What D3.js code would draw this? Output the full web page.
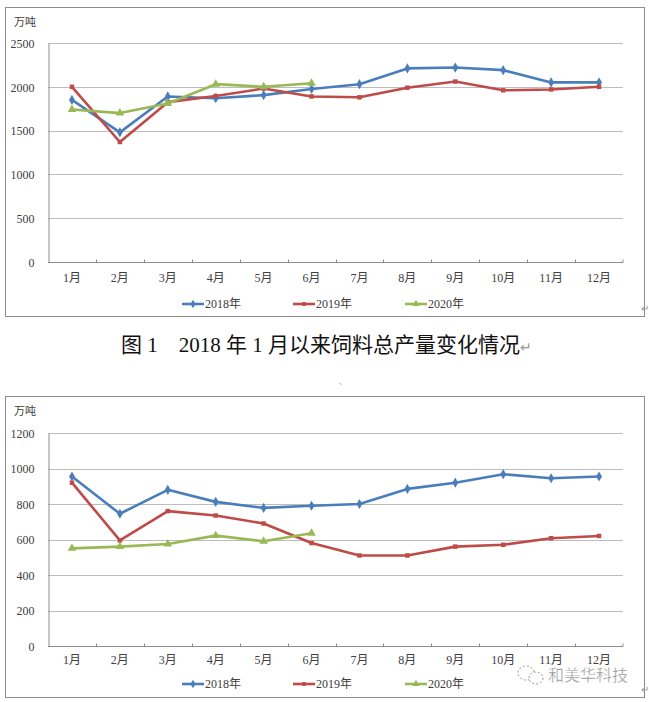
<!DOCTYPE html>
<meta charset="utf-8">
<script src="https://d3js.org/d3.v7.min.js"></script>
<style>
  body { margin: 0; background: #fff; }
  svg { display: block; }
  text { font-family: "Liberation Serif", "Noto Sans CJK SC", serif; }
</style>
<body>
<script>
    // data
    var months = ["1月", "2月", "3月", "4月", "5月", "6月", "7月", "8月", "9月", "10月", "11月", "12月"];
    var years = ["2018年", "2019年", "2020年"];

    // chart 1: total feed output
    var total2018 = [1850, 1480, 1890, 1870, 1905, 1975, 2030, 2210, 2220, 2190, 2050, 2050];
    var total2019 = [2000, 1370, 1825, 1895, 1980, 1890, 1880, 1990, 2060, 1960, 1970, 2000];
    var total2020 = [1740, 1700, 1810, 2030, 2000, 2040];
    var totalTicks = [0, 500, 1000, 1500, 2000, 2500];

    // chart 2
    var second2018 = [955, 745, 880, 812, 778, 790, 800, 885, 920, 968, 945, 955];
    var second2019 = [920, 595, 760, 735, 690, 580, 510, 510, 560, 570, 607, 620];
    var second2020 = [550, 560, 575, 622, 590, 635];
    var secondTicks = [0, 200, 400, 600, 800, 1000, 1200];

    var colors = ["#4a7ebb", "#be4b48", "#98b954"];
    var shapes = [d3.symbolDiamond, d3.symbolSquare, d3.symbolTriangle];
    var shapeSizes = [30, 20, 32];

    var svg = d3.select("body").append("svg")
        .attr("width", 649)
        .attr("height", 702);

    function drawChart(c) {
        var g = svg.append("g");

        // outer frame
        g.append("rect")
            .attr("x", 5.5).attr("y", c.frameTop + 0.5)
            .attr("width", 639).attr("height", c.frameBottom - c.frameTop)
            .attr("fill", "#fff")
            .attr("stroke", "#8c8c8c");

        var x = d3.scaleBand().domain(months).range([48, 623]);
        var y = d3.scaleLinear().domain([0, c.ticks[c.ticks.length - 1]]).range([c.bottom, c.top]);

        // gridlines
        g.selectAll(".grid").data(c.ticks.slice(1)).enter().append("line")
            .attr("x1", 48).attr("x2", 623)
            .attr("y1", function(d) { return Math.round(y(d)) + 0.5; })
            .attr("y2", function(d) { return Math.round(y(d)) + 0.5; })
            .attr("stroke", "#bdbdbd");

        // y axis
        var yAxis = d3.axisLeft(y).tickValues(c.ticks).tickFormat(d3.format("d"))
            .tickSize(0).tickPadding(14);
        var ya = g.append("g").attr("transform", "translate(48.5,0.5)").call(yAxis);
        ya.select(".domain").attr("stroke", "#8c8c8c");
        ya.selectAll("text").attr("font-size", 12).attr("fill", "#404040")
            .attr("font-family", "Liberation Serif");

        // x axis with ticks on band edges
        var xa = g.append("g").attr("transform", "translate(0," + (Math.round(c.bottom) + 0.5) + ")");
        xa.append("line").attr("x1", 48).attr("x2", 623).attr("stroke", "#8c8c8c");
        xa.selectAll(".tk").data(months.slice(1).concat(["end"])).enter().append("line")
            .attr("x1", function(d) { return d == "end" ? 623 : Math.round(x(d)) + 0.5; })
            .attr("x2", function(d) { return d == "end" ? 623 : Math.round(x(d)) + 0.5; })
            .attr("y1", 0).attr("y2", -3)
            .attr("stroke", "#8c8c8c");
        xa.selectAll(".lbl").data(months).enter().append("text")
            .attr("x", function(d) { return x(d) + x.bandwidth() / 2; })
            .attr("y", c.labelY - Math.round(c.bottom))
            .attr("text-anchor", "middle")
            .attr("dy", "0.35em")
            .attr("font-size", 12)
            .attr("fill", "#404040")
            .text(function(d) { return d; });

        // unit label
        g.append("text")
            .attr("x", 14).attr("y", c.unitY).attr("dy", "0.35em")
            .attr("font-size", 11).attr("fill", "#404040")
            .text("万吨");

        var line = d3.line()
            .x(function(d, i) { return x(months[i]) + x.bandwidth() / 2; })
            .y(function(d) { return y(d); });

        c.series.forEach(function(s, k) {
            g.append("path")
                .attr("d", line(s))
                .attr("fill", "none")
                .attr("stroke", colors[k])
                .attr("stroke-width", 2.6)
                .attr("stroke-linejoin", "round");
            g.selectAll(".m" + k).data(s).enter().append("path")
                .attr("d", d3.symbol().type(shapes[k]).size(shapeSizes[k]))
                .attr("transform", function(d, i) {
                    return "translate(" + (x(months[i]) + x.bandwidth() / 2) + "," + y(d) + ")";
                })
                .attr("fill", colors[k]);
        });

        // legend
        var legendX = [182, 293, 405];
        years.forEach(function(yr, k) {
            var lg = g.append("g").attr("transform", "translate(" + legendX[k] + "," + c.legendY + ")");
            lg.append("line").attr("x1", 0).attr("x2", 22)
                .attr("stroke", colors[k]).attr("stroke-width", 2.6);
            lg.append("path")
                .attr("d", d3.symbol().type(shapes[k]).size(shapeSizes[k] * 0.7))
                .attr("transform", "translate(11,0)")
                .attr("fill", colors[k]);
            lg.append("text")
                .attr("x", 23).attr("dy", "0.35em")
                .attr("font-size", 12).attr("fill", "#404040")
                .text(yr);
        });

        // paragraph mark at the frame's corner
        g.append("text")
            .attr("x", 641).attr("y", c.frameBottom - 4)
            .attr("font-size", 10).attr("fill", "#999")
            .attr("font-family", "DejaVu Sans")
            .text("↵");
    }

    drawChart({
        frameTop: 7, frameBottom: 316,
        top: 43, bottom: 262,
        ticks: totalTicks,
        series: [total2018, total2019, total2020],
        labelY: 277, legendY: 304, unitY: 22
    });

    drawChart({
        frameTop: 396, frameBottom: 697,
        top: 433, bottom: 646,
        ticks: secondTicks,
        series: [second2018, second2019, second2020],
        labelY: 659, legendY: 684, unitY: 411
    });

    // caption between the charts
    var cap = svg.append("text")
        .attr("x", 121).attr("y", 345).attr("dy", "0.35em")
        .attr("font-size", 21).attr("fill", "#111");
    cap.append("tspan").attr("font-family", "Noto Sans CJK SC").text("图");
    cap.append("tspan").attr("font-family", "Liberation Serif").text(" 1\u00a0\u00a0\u00a0 2018 ");
    cap.append("tspan").attr("font-family", "Noto Sans CJK SC").text("年");
    cap.append("tspan").attr("font-family", "Liberation Serif").text(" 1 ");
    cap.append("tspan").attr("font-family", "Noto Sans CJK SC").text("月以来饲料总产量变化情况");
    cap.append("tspan").attr("font-family", "DejaVu Sans").attr("font-size", 14).attr("fill", "#999").text("↵");

    svg.append("text")
        .attr("x", 339).attr("y", 384)
        .attr("font-size", 8).attr("fill", "#aaa")
        .text("、");

    // watermark
    var wm = svg.append("g").attr("transform", "translate(0,675)");
    wm.append("ellipse").attr("cx", 526).attr("cy", -2).attr("rx", 8).attr("ry", 7)
        .attr("fill", "none").attr("stroke", "#999").attr("stroke-dasharray", "2,2");
    wm.append("ellipse").attr("cx", 536).attr("cy", 3).attr("rx", 7).attr("ry", 6)
        .attr("fill", "#fff").attr("stroke", "#999").attr("stroke-dasharray", "2,2");
    wm.append("text")
        .attr("x", 548).attr("dy", "0.35em")
        .attr("font-family", "Noto Sans CJK SC")
        .attr("font-size", 16).attr("fill", "#8a8a8a")
        .attr("stroke", "#fff").attr("stroke-width", 0.4)
        .text("和美华科技");
</script>
</body>
